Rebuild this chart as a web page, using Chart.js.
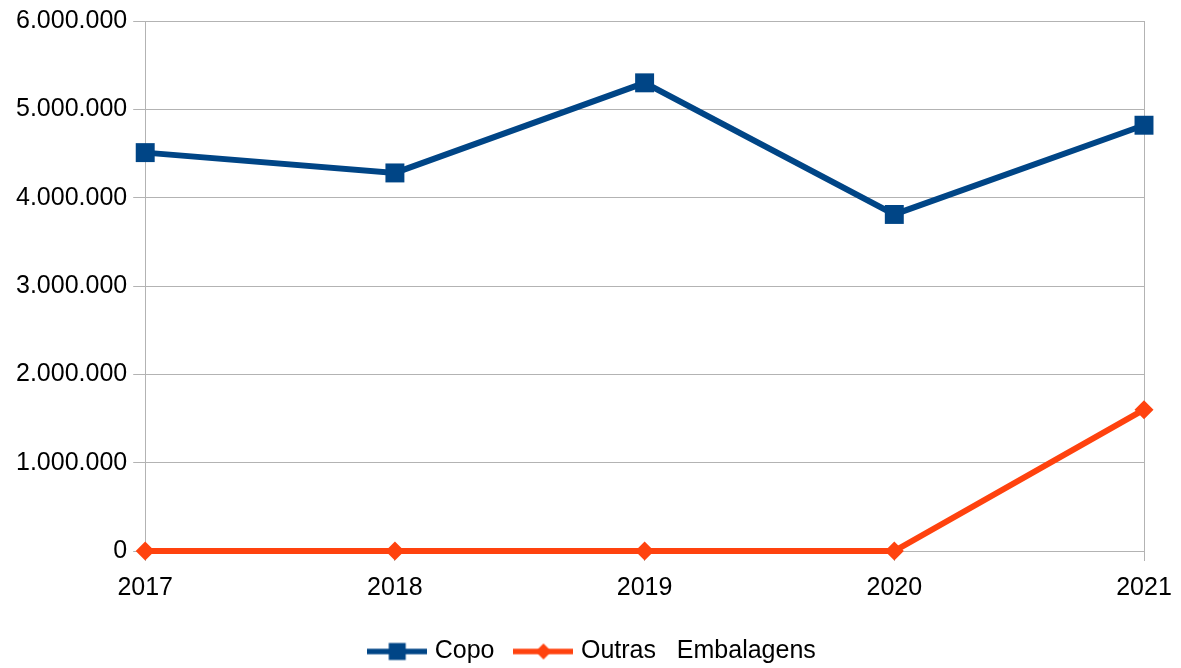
<!DOCTYPE html>
<html>
<head>
<meta charset="utf-8">
<script src="https://cdn.jsdelivr.net/npm/chart.js@4"></script>
<style>
  html, body { margin: 0; padding: 0; background: #fff; }
  #wrap { width: 1181px; height: 668px; position: relative; }
</style>
</head>
<body>
<div id="wrap"><canvas id="chart"></canvas></div>
<script>
// Chart data
const years = ['2017', '2018', '2019', '2020', '2021'];
const copo = [4510000, 4280000, 5300000, 3810000, 4820000];
const outras = [0, 0, 0, 0, 1600000];
const seriesNames = ['Copo', 'Outras   Embalagens'];
const yTicks = [0, 1000000, 2000000, 3000000, 4000000, 5000000, 6000000];

const blue = '#004586';
const orange = '#ff420e';
const gridGrey = '#b3b3b3';
const font = { family: '"Liberation Sans", Arial, sans-serif', size: 25 };

// thousands with dots, e.g. 6.000.000
function fmt(v) {
  return String(v).replace(/\B(?=(\d{3})+(?!\d))/g, '.');
}

// legend symbol: short line with the marker in the middle
function legendIcon(color, shape) {
  const c = document.createElement('canvas');
  c.width = 60;
  c.height = 20;
  const g = c.getContext('2d');
  g.strokeStyle = color;
  g.lineWidth = 5.5;
  g.beginPath();
  g.moveTo(0, 10);
  g.lineTo(60, 10);
  g.stroke();
  g.fillStyle = color;
  if (shape === 'rect') {
    g.fillRect(21.5, 1.5, 17, 17);
  } else {
    g.beginPath();
    g.moveTo(30, 2);
    g.lineTo(38, 10);
    g.lineTo(30, 18);
    g.lineTo(22, 10);
    g.closePath();
    g.fill();
  }
  return c;
}

const icons = [legendIcon(blue, 'rect'), legendIcon(orange, 'diamond')];

// nudge the legend row a little to the right
const legendShift = {
  id: 'legendShift',
  afterLayout(chart) {
    chart.legend.left += 3;
    chart.legend.right += 3;
  }
};

new Chart(document.getElementById('chart'), {
  type: 'line',
  data: {
    labels: years,
    datasets: [{
      label: seriesNames[0],
      data: copo,
      borderColor: blue,
      backgroundColor: blue,
      borderWidth: 6,
      pointStyle: 'rect',
      pointRadius: 13.4,
      pointHoverRadius: 13.4,
      pointBorderWidth: 0,
      clip: false,
      tension: 0
    }, {
      label: seriesNames[1],
      data: outras,
      borderColor: orange,
      backgroundColor: orange,
      borderWidth: 6,
      pointStyle: 'rectRot',
      pointRadius: 9.5,
      pointHoverRadius: 9.5,
      pointBorderWidth: 0,
      clip: false,
      tension: 0
    }]
  },
  options: {
    responsive: true,
    maintainAspectRatio: false,
    animation: false,
    layout: { padding: { top: 5, left: 10, right: 9, bottom: -6 } },
    plugins: {
      tooltip: { enabled: false },
      legend: {
        position: 'bottom',
        labels: {
          color: '#000',
          font: font,
          usePointStyle: true,
          pointStyleWidth: 50,
          padding: 24,
          generateLabels: function(chart) {
            return chart.data.datasets.map((ds, i) => ({
              text: ds.label,
              pointStyle: icons[i],
              fillStyle: ds.borderColor,
              strokeStyle: ds.borderColor,
              lineWidth: 0,
              hidden: false,
              datasetIndex: i
            }));
          }
        }
      }
    },
    scales: {
      x: {
        offset: false,
        afterFit: axis => { axis.paddingRight = 37; axis.paddingLeft = 0; },
        grid: {
          color: ctx => (ctx.index === 0 || ctx.index === years.length - 1) ? gridGrey : 'rgba(0,0,0,0)',
          tickColor: gridGrey,
          tickLength: 10,
          lineWidth: 1
        },
        border: { display: true, color: gridGrey },
        ticks: { color: '#000', font: font, padding: 12, maxRotation: 0 }
      },
      y: {
        min: 0,
        max: 6000000,
        afterBuildTicks: axis => { axis.ticks = yTicks.map(v => ({ value: v })); },
        grid: { color: gridGrey, tickColor: gridGrey, tickLength: 12, lineWidth: 1 },
        border: { display: true, color: gridGrey },
        ticks: { color: '#000', font: font, padding: 6, callback: v => fmt(v) }
      }
    }
  },
  plugins: [legendShift]
});
</script>
</body>
</html>
